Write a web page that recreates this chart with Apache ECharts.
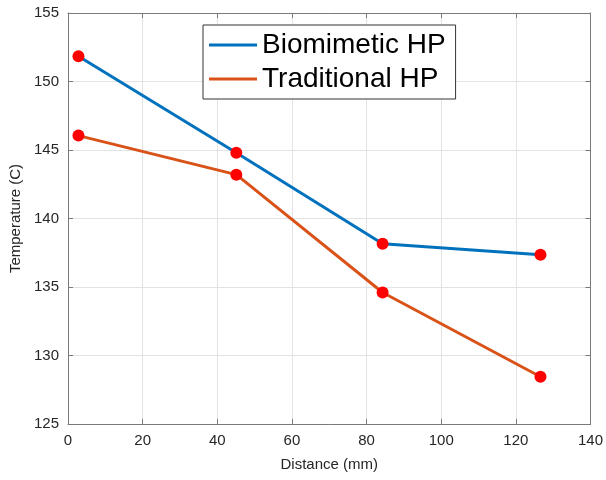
<!DOCTYPE html>
<html>
<head>
<meta charset="utf-8">
<script src="https://cdn.jsdelivr.net/npm/echarts@6/dist/echarts.min.js"></script>
<style>
  html, body { margin: 0; padding: 0; background: #fff; }
  #main { width: 606px; height: 480px; }
</style>
</head>
<body>
<div id="main"></div>
<script>
// 数据
var distance = [2.8, 45.1, 84.3, 126.6];
var biomimetic = [151.85, 144.8, 138.15, 137.35];
var traditional = [146.05, 143.2, 134.6, 128.45];
var seriesNames = ['Biomimetic HP', 'Traditional HP'];

function pairs(xs, ys) {
    return xs.map(function (x, i) { return [x, ys[i]]; });
}

var myChart = echarts.init(document.getElementById('main'));

var axisColor = '#262626';
var lineColor = '#7a7a7a';
var font = 'Liberation Sans, Arial, Helvetica, sans-serif';

option = {
    animation: false,
    backgroundColor: '#fff',
    textStyle: { fontFamily: font },
    grid: {
        left: 68, right: 15, top: 13, bottom: 56,
        show: false
    },
    legend: {
        orient: 'vertical',
        left: 203,
        top: 25,
        itemWidth: 48,
        itemHeight: 3,
        itemGap: 6,
        padding: [6, 10, 6, 6],
        icon: 'rect',
        borderColor: '#333',
        borderWidth: 1,
        backgroundColor: '#fff',
        textStyle: { fontSize: 28, color: '#000', fontFamily: font },
        data: seriesNames
    },
    xAxis: [{
        type: 'value',
        min: 0, max: 140, interval: 20,
        name: 'Distance (mm)',
        nameLocation: 'middle',
        nameGap: 33,
        nameTextStyle: { fontSize: 15, color: axisColor },
        axisLine: { show: true, onZero: false, lineStyle: { color: lineColor, width: 1 } },
        axisTick: { inside: true, length: 5, lineStyle: { color: lineColor } },
        axisLabel: { fontSize: 15, color: axisColor, margin: 9 },
        splitLine: { show: true, lineStyle: { color: '#e3e3e3' } }
    }, {
        type: 'value', position: 'top',
        min: 0, max: 140, interval: 20,
        axisLine: { show: true, onZero: false, lineStyle: { color: lineColor, width: 1 } },
        axisTick: { inside: true, length: 5, lineStyle: { color: lineColor } },
        axisLabel: { show: false },
        splitLine: { show: false }
    }],
    yAxis: [{
        type: 'value',
        min: 125, max: 155, interval: 5,
        name: 'Temperature (C)',
        nameLocation: 'middle',
        nameGap: 36,
        nameTextStyle: { fontSize: 15, color: axisColor },
        axisLine: { show: true, onZero: false, lineStyle: { color: lineColor, width: 1 } },
        axisTick: { show: true, inside: true, length: 5, lineStyle: { color: lineColor } },
        axisLabel: { fontSize: 15, color: axisColor, margin: 9 },
        splitLine: { show: true, lineStyle: { color: '#e3e3e3' } }
    }, {
        type: 'value', position: 'right',
        min: 125, max: 155, interval: 5,
        axisLine: { show: true, onZero: false, lineStyle: { color: lineColor, width: 1 } },
        axisTick: { show: true, inside: true, length: 5, lineStyle: { color: lineColor } },
        axisLabel: { show: false },
        splitLine: { show: false }
    }],
    series: [{
        name: seriesNames[0],
        type: 'line',
        data: pairs(distance, biomimetic),
        symbol: 'circle',
        symbolSize: 12,
        itemStyle: { color: '#0072BD' },
        lineStyle: { color: '#0072BD', width: 3 },
        emphasis: { disabled: true }
    }, {
        name: seriesNames[1],
        type: 'line',
        data: pairs(distance, traditional),
        symbol: 'circle',
        symbolSize: 12,
        itemStyle: { color: '#D95319' },
        lineStyle: { color: '#D95319', width: 3 },
        emphasis: { disabled: true }
    }]
};

// 标记点为红色
option.series.forEach(function (s) {
    s.data = s.data.map(function (d) {
        return { value: d, itemStyle: { color: '#ff0000' } };
    });
});

if (option && typeof option === "object") {
    myChart.setOption(option, true);
}
</script>
</body>
</html>
